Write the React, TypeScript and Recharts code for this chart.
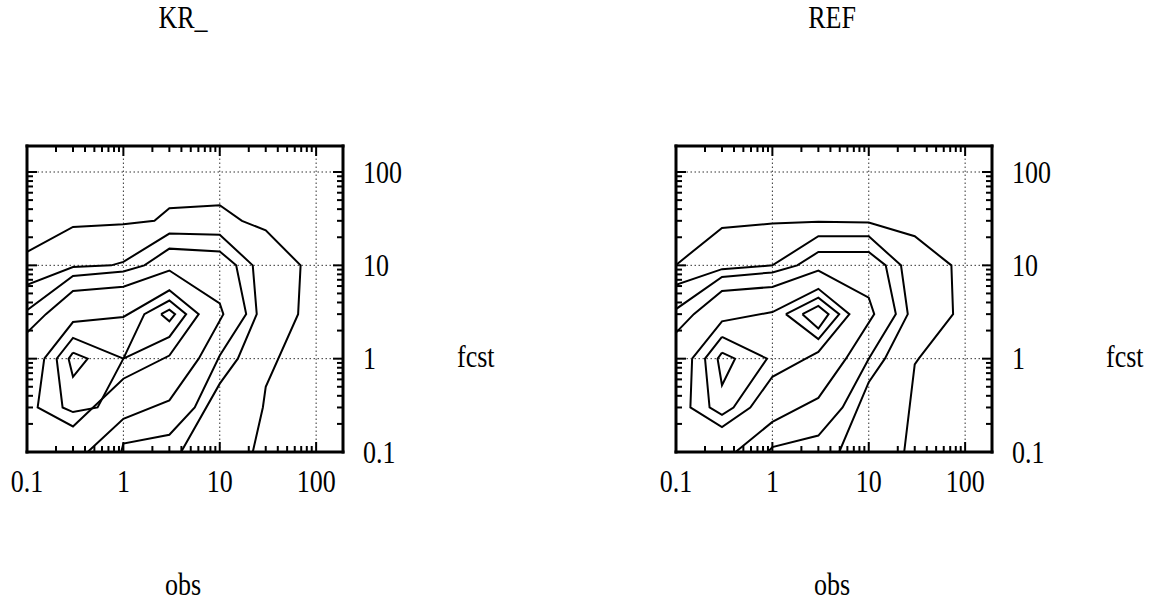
import { LineChart, Line, XAxis, YAxis, ReferenceLine } from 'recharts'

type Pt = [number, number]

// axis ticks (obs on x, fcst on y, both log)
const decadeTicks = [0.1, 1, 10, 100]
const decadeLabels = ['0.1', '1', '10', '100']
const minorTicks = [
  0.2, 0.3, 0.4, 0.5, 0.6, 0.7, 0.8, 0.9,
  2, 3, 4, 5, 6, 7, 8, 9,
  20, 30, 40, 50, 60, 70, 80, 90,
]
const gridValues = [1, 10, 100]

// KR_ contours as [obs, fcst]
const krA: Pt[] = [[0.1, 13.9], [0.3, 25.8], [1, 27.5], [2.1, 30], [3, 41], [10, 44], [17, 30], [30, 23.7], [69, 10], [65, 3], [30, 0.5], [28, 0.3], [22, 0.1]]
const krB: Pt[] = [[0.1, 6.2], [0.3, 9.6], [0.75, 10], [1, 10.9], [3, 21.9], [10, 21.3], [22, 10], [24.2, 3], [15.4, 1], [10, 0.54], [3.97, 0.1]]
const krC: Pt[] = [[0.1, 3.3], [0.3, 7.7], [1, 8.6], [1.65, 10], [3, 15.1], [10, 14.1], [14.8, 10], [18.8, 3], [10, 1.08], [5.5, 0.3], [3, 0.153], [1, 0.123], [0.95, 0.1]]
const krD: Pt[] = [[0.1, 1.9], [0.157, 3], [0.3, 5.3], [1, 5.9], [3, 8.8], [10, 3.9], [10.9, 3], [6.05, 1], [3, 0.357], [1, 0.227], [0.426, 0.1]]
const krE: Pt[] = [[0.151, 1], [0.3, 2.47], [1, 2.8], [3, 5.4], [6.05, 3], [3, 1.08], [1, 0.61], [0.3, 0.188], [0.129, 0.3], [0.151, 1]]
const krF: Pt[] = [[1, 1], [0.3, 1.67], [0.203, 1], [0.234, 0.3], [0.3, 0.268], [0.54, 0.3], [1, 1], [1.65, 3], [3, 4.2], [4.48, 3], [3, 1.71], [1, 1]]
const krG1: Pt[] = [[0.3, 1.16], [0.426, 1], [0.3, 0.64], [0.27, 1], [0.3, 1.16]]
const krG2: Pt[] = [[2.46, 3], [3, 3.35], [3.44, 3], [3, 2.51], [2.46, 3]]

// REF contours
const refA: Pt[] = [[0.1, 10.1], [0.3, 25.2], [1, 28], [3, 29.3], [10, 28.8], [30, 20.5], [72, 10], [75, 3], [33, 1], [30, 0.87], [23.3, 0.1]]
const refB: Pt[] = [[0.1, 6.2], [0.3, 9.1], [1, 10], [3, 20.5], [10, 20.5], [21.6, 10], [25.4, 3], [14.7, 1], [10, 0.56], [4.94, 0.1]]
const refC: Pt[] = [[0.1, 3.4], [0.3, 7.5], [1, 8.4], [1.81, 10], [3, 13.9], [10, 13.9], [15, 10], [19.1, 3], [10, 1], [5.35, 0.3], [3, 0.15], [1, 0.113], [0.9, 0.1]]
const refD: Pt[] = [[0.1, 1.9], [0.153, 3], [0.3, 5.3], [1, 5.87], [3, 8.8], [10, 4.5], [11.4, 3], [5.8, 1], [3, 0.38], [1, 0.21], [0.415, 0.1]]
const refE: Pt[] = [[0.147, 1], [0.3, 2.51], [1, 3.16], [3, 5.6], [6.3, 3], [3, 1.18], [2.22, 1], [1, 0.64], [0.59, 0.3], [0.3, 0.185], [0.141, 0.3], [0.147, 1]]
const refF1: Pt[] = [[0.3, 1.71], [0.88, 1], [0.395, 0.3], [0.3, 0.25], [0.223, 0.3], [0.2, 1], [0.3, 1.71]]
const refF2: Pt[] = [[1.38, 3], [3, 4.5], [4.94, 3], [3, 1.62], [1.38, 3]]
const refG1: Pt[] = [[0.3, 1.16], [0.41, 1], [0.3, 0.52], [0.27, 1], [0.3, 1.16]]
const refG2: Pt[] = [[2.05, 3], [3, 3.67], [3.83, 3], [3, 2.1], [2.05, 3]]

const FONT = "'Liberation Serif', 'Times New Roman', serif"
const FS = 26
const STRETCH = 1.18
const DOMAIN: [number, number] = [0.1, 190]
const allTicks = [...decadeTicks, ...minorTicks].sort((a, b) => a - b)

const BOX = { left: 27, top: 146, width: 316, height: 306 }
const CW = 510
const CH = 604
const AX = 1 // axes need a non-zero size or recharts skips them

const isMajor = (v: number) => decadeTicks.includes(v)
const labelOf = (v: number) => decadeLabels[decadeTicks.indexOf(v)]

// inward tick marks, with the decade labels outside on bottom/right
const makeTick = (side: 'bottom' | 'top' | 'left' | 'right') => (props: any) => {
  const { x, y, payload } = props
  const v = payload.value
  const len = isMajor(v) ? 10 : 6
  let line
  if (side === 'bottom') line = <line x1={x} x2={x} y1={y} y2={y - len} />
  else if (side === 'top') line = <line x1={x} x2={x} y1={y} y2={y + len} />
  else if (side === 'left') line = <line x1={x} x2={x + len} y1={y} y2={y} />
  else line = <line x1={x} x2={x - len} y1={y} y2={y} />
  return (
    <g stroke="#000" strokeWidth={2}>
      {line}
      {side === 'bottom' && isMajor(v) && (
        <text transform={`translate(${x},${y + 40}) scale(1,${STRETCH})`} textAnchor="middle"
          fontSize={FS} fontFamily={FONT} fill="#000" stroke="none">{labelOf(v)}</text>
      )}
      {side === 'right' && isMajor(v) && (
        <text transform={`translate(${x + 20},${y + 10.5}) scale(1,${STRETCH})`} textAnchor="start"
          fontSize={FS} fontFamily={FONT} fill="#000" stroke="none">{labelOf(v)}</text>
      )}
    </g>
  )
}

const axisLine = { stroke: '#000', strokeWidth: 3, strokeLinecap: 'square' as const }

const textStyle: React.CSSProperties = {
  position: 'absolute',
  fontFamily: FONT,
  fontSize: FS,
  lineHeight: `${FS}px`,
  color: '#000',
  whiteSpace: 'nowrap',
}

function Panel({ left, title, contours }: { left: number; title: string; contours: Pt[][] }) {
  const cx = BOX.left + BOX.width / 2 - 2
  return (
    <>
      <div style={{ ...textStyle, left: left + cx, top: 7, transform: `translateX(-50%) scaleY(${STRETCH})`, transformOrigin: '50% 22px' }}>{title}</div>
      <div style={{ ...textStyle, left: left + cx, top: 574, transform: `translateX(-50%) scaleY(${STRETCH})`, transformOrigin: '50% 22px' }}>obs</div>
      <div style={{ ...textStyle, left: left + 457, top: 346, transform: `scaleY(${STRETCH})`, transformOrigin: '0 22px' }}>fcst</div>
      <div style={{ position: 'absolute', left, top: 0, width: CW, height: CH }}>
        <LineChart width={CW} height={CH}
          margin={{
            top: BOX.top - AX,
            left: BOX.left - AX,
            right: CW - BOX.left - BOX.width - AX,
            bottom: CH - BOX.top - BOX.height - AX,
          }}>
          {gridValues.map(v => (
            <ReferenceLine key={'gx' + v} x={v} xAxisId="b" yAxisId="r" stroke="#333" strokeWidth={1} strokeDasharray="1.5 2.5" />
          ))}
          {gridValues.map(v => (
            <ReferenceLine key={'gy' + v} y={v} xAxisId="b" yAxisId="r" stroke="#333" strokeWidth={1} strokeDasharray="1.5 2.5" />
          ))}
          {contours.map((c, i) => (
            <Line key={i} data={c.map(([x, y]) => ({ x, y }))} dataKey="y" xAxisId="b" yAxisId="r"
              type="linear" stroke="#000" strokeWidth={2} dot={false} activeDot={false} isAnimationActive={false} />
          ))}
          <XAxis xAxisId="b" dataKey="x" type="number" scale="log" domain={DOMAIN} allowDataOverflow
            orientation="bottom" height={AX} ticks={allTicks} interval={0} tickSize={0} tickMargin={0}
            tickLine={false} axisLine={axisLine} tick={makeTick('bottom')} />
          <XAxis xAxisId="t" dataKey="x" type="number" scale="log" domain={DOMAIN} allowDataOverflow
            orientation="top" height={AX} ticks={allTicks} interval={0} tickSize={0} tickMargin={0}
            tickLine={false} axisLine={axisLine} tick={makeTick('top')} />
          <YAxis yAxisId="l" dataKey="y" type="number" scale="log" domain={DOMAIN} allowDataOverflow
            orientation="left" width={AX} ticks={allTicks} interval={0} tickSize={0} tickMargin={0}
            tickLine={false} axisLine={axisLine} tick={makeTick('left')} />
          <YAxis yAxisId="r" dataKey="y" type="number" scale="log" domain={DOMAIN} allowDataOverflow
            orientation="right" width={AX} ticks={allTicks} interval={0} tickSize={0} tickMargin={0}
            tickLine={false} axisLine={axisLine} tick={makeTick('right')} />
        </LineChart>
      </div>
    </>
  )
}

export default function App() {
  return (
    <div style={{ position: 'absolute', left: 0, top: 0, width: 1161, height: 604, background: '#fff', overflow: 'hidden' }}>
      <Panel left={0} title="KR_" contours={[krA, krB, krC, krD, krE, krF, krG1, krG2]} />
      <Panel left={649} title="REF" contours={[refA, refB, refC, refD, refE, refF1, refF2, refG1, refG2]} />
    </div>
  )
}
